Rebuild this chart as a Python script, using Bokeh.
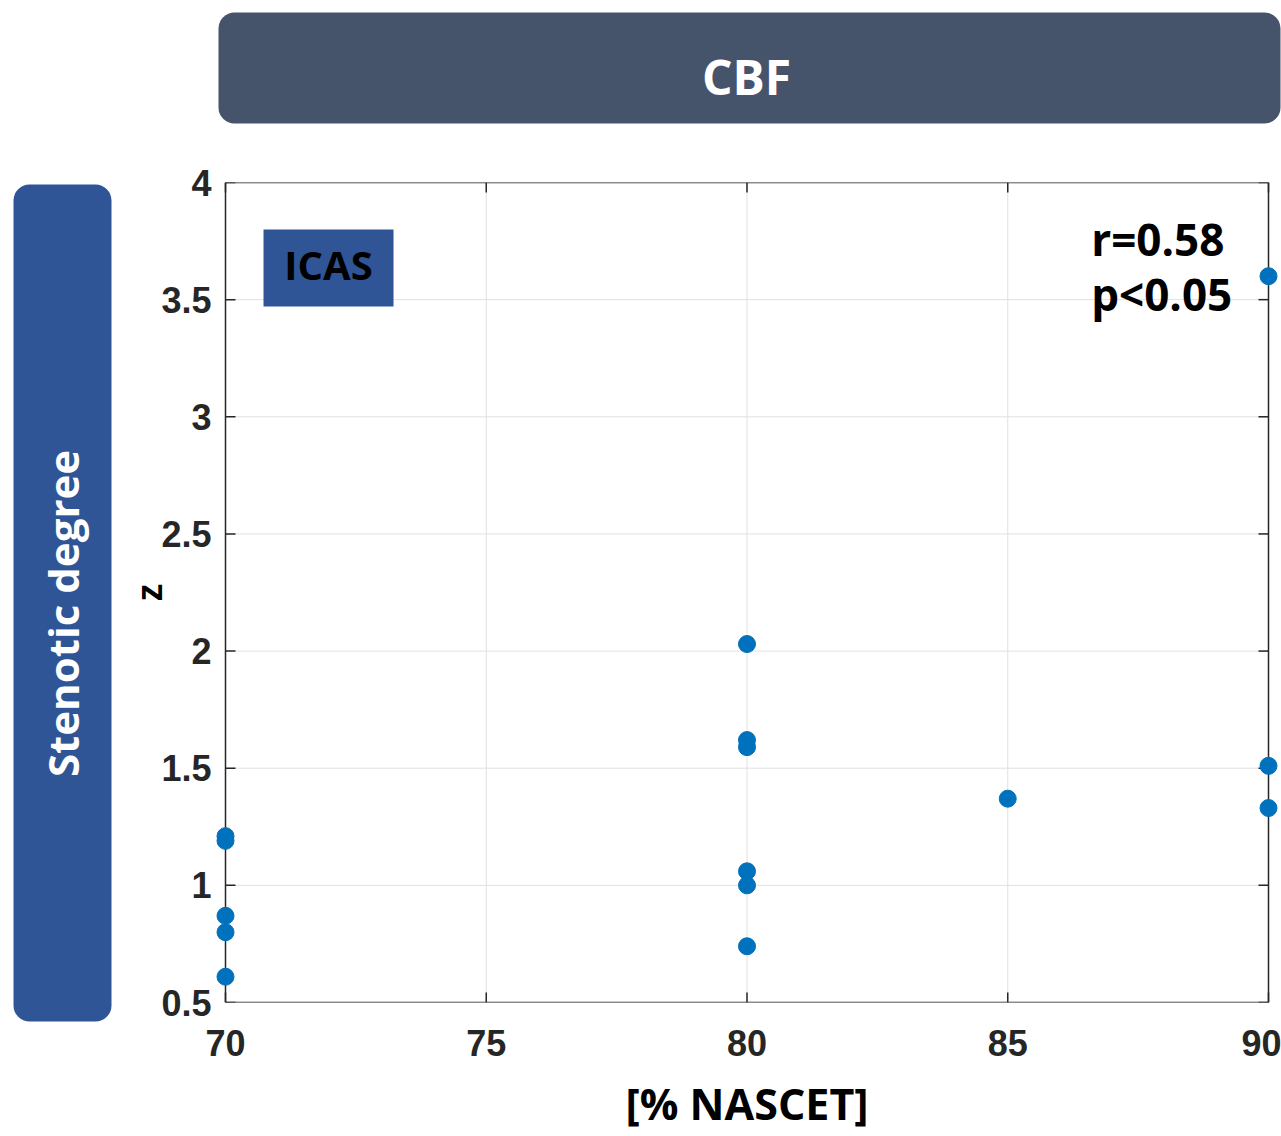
import math
from bokeh.plotting import figure
from bokeh.models import Range1d, BoxAnnotation, Label, CustomJSTickFormatter
from bokeh.layouts import column, row
from bokeh.embed import file_html
from bokeh.resources import INLINE

# ---------------- data ----------------
nascet = [70, 70, 70, 70, 70, 80, 80, 80, 80, 80, 80, 85, 90, 90, 90]
z_vals = [1.21, 1.19, 0.87, 0.80, 0.61, 2.03, 1.62, 1.59, 1.06, 1.00, 0.74, 1.37, 3.60, 1.51, 1.33]
x_ticks = [70, 75, 80, 85, 90]
y_ticks = [0.5, 1, 1.5, 2, 2.5, 3, 3.5, 4]
x_min, x_max = 70, 90
y_min, y_max = 0.5, 4
title_text = "CBF"
side_text = "Stenotic degree"
group_text = "ICAS"
stat_r = "r=0.58"
stat_p = "p<0.05"
x_label = "[% NASCET]"
y_label = "z"

CALIBRI = "Open Sans"
ARIAL = "Liberation Sans"

# ---------------- header ----------------
hdr = figure(width=1281, height=150, x_range=Range1d(0, 1281), y_range=Range1d(0, 150),
             x_axis_type=None, y_axis_type=None, toolbar_location=None,
             output_backend="svg", min_border=0, outline_line_color=None)
hdr.grid.visible = False
hdr.frame_align = False
hdr.add_layout(BoxAnnotation(left=218, right=1280, top=138, bottom=27,
                             fill_color="#46546b", fill_alpha=1, line_color=None,
                             border_radius=16))
hdr.add_layout(Label(x=746, y=74, text=title_text, text_align="center",
                     text_baseline="alphabetic", text_color="white",
                     text_font=CALIBRI, text_font_style="bold", text_font_size="48px"))

# ---------------- side bar ----------------
side = figure(width=112, height=986, x_range=Range1d(0, 112), y_range=Range1d(0, 986),
              x_axis_type=None, y_axis_type=None, toolbar_location=None,
              output_backend="svg", min_border=0, outline_line_color=None)
side.grid.visible = False
side.frame_align = False
side.add_layout(BoxAnnotation(left=13, right=111, top=952, bottom=115,
                              fill_color="#2f5597", fill_alpha=1, line_color=None,
                              border_radius=16))
side.add_layout(Label(x=62, y=523, text=side_text, angle=math.pi / 2,
                      text_align="center", text_baseline="alphabetic",
                      text_color="white", text_font=CALIBRI,
                      text_font_style="bold", text_font_size="42px"))

# ---------------- main plot ----------------
pad = 10 * (x_max - x_min) / 1043.0
p = figure(width=1169, height=986,
           x_range=Range1d(x_min - pad, x_max + pad), y_range=Range1d(y_min, y_max),
           toolbar_location=None, output_backend="svg",
           min_border_left=103, min_border_right=3, min_border_top=32, min_border_bottom=134,
           outline_line_color=None, background_fill_color="white", border_fill_color="white")
p.grid.visible = False

tx = 10 * (x_max - x_min) / 1043.0   # tick length in x data units
ty = 10 * (y_max - y_min) / 820.0     # tick length in y data units

# grid lines
p.segment(x0=[x_min] * len(y_ticks), y0=y_ticks, x1=[x_max] * len(y_ticks), y1=y_ticks,
          line_color="#e0e0e0", line_width=1)
p.segment(x0=x_ticks, y0=[y_min] * len(x_ticks), x1=x_ticks, y1=[y_max] * len(x_ticks),
          line_color="#e0e0e0", line_width=1)

# box
p.segment(x0=[x_min, x_max, x_min, x_min], y0=[y_min, y_min, y_min, y_max],
          x1=[x_min, x_max, x_max, x_max], y1=[y_max, y_max, y_min, y_max],
          line_color="#262626", line_width=1.5)
# inward ticks
p.segment(x0=[x_min] * len(y_ticks), y0=y_ticks, x1=[x_min + tx] * len(y_ticks), y1=y_ticks,
          line_color="#262626", line_width=1.5)
p.segment(x0=[x_max] * len(y_ticks), y0=y_ticks, x1=[x_max - tx] * len(y_ticks), y1=y_ticks,
          line_color="#262626", line_width=1.5)
p.segment(x0=x_ticks, y0=[y_min] * len(x_ticks), x1=x_ticks, y1=[y_min + ty] * len(x_ticks),
          line_color="#262626", line_width=1.5)
p.segment(x0=x_ticks, y0=[y_max] * len(x_ticks), x1=x_ticks, y1=[y_max - ty] * len(x_ticks),
          line_color="#262626", line_width=1.5)

# data points
p.scatter(nascet, z_vals, size=17, fill_color="#0072bd", line_color="#0072bd")

# axes
fmt = CustomJSTickFormatter(code="return tick.toString()")
for ax in (p.xaxis[0], p.yaxis[0]):
    ax.axis_line_color = None
    ax.major_tick_in = 0
    ax.major_tick_out = 0
    ax.minor_tick_line_color = None
    ax.major_label_text_font = ARIAL
    ax.major_label_text_font_style = "bold"
    ax.major_label_text_font_size = "36px"
    ax.major_label_text_color = "#262626"
    ax.formatter = fmt
p.xaxis.ticker = x_ticks
p.yaxis.ticker = y_ticks
p.xaxis.major_label_standoff = 27
p.yaxis.major_label_standoff = 4
p.xaxis.axis_label = x_label
p.xaxis.axis_label_text_font = CALIBRI
p.xaxis.axis_label_text_font_style = "bold"
p.xaxis.axis_label_text_font_size = "43px"
p.xaxis.axis_label_text_color = "black"
p.xaxis.axis_label_standoff = 15
p.yaxis.axis_label = y_label
p.yaxis.axis_label_text_font = ARIAL
p.yaxis.axis_label_text_font_style = "bold"
p.yaxis.axis_label_text_font_size = "36px"
p.yaxis.axis_label_text_color = "black"
p.yaxis.axis_label_standoff = -12

# ICAS tag
p.add_layout(BoxAnnotation(left=70.729, right=73.222, top=3.799, bottom=3.471,
                           fill_color="#2f5597", fill_alpha=1, line_color=None))
p.add_layout(Label(x=71.975, y=3.65, text=group_text, text_align="center",
                   text_baseline="alphabetic", text_color="black", text_font=CALIBRI,
                   text_font_style="bold", text_font_size="40px"))

# statistics
p.add_layout(Label(x=86.6, y=3.757, text=stat_r, text_align="left",
                   text_baseline="alphabetic", text_color="black", text_font=CALIBRI,
                   text_font_style="bold", text_font_size="44px"))
p.add_layout(Label(x=86.6, y=3.522, text=stat_p, text_align="left",
                   text_baseline="alphabetic", text_color="black", text_font=CALIBRI,
                   text_font_style="bold", text_font_size="44px"))

layout = column(hdr, row(side, p))
open("out.html", "w").write(file_html(layout, INLINE))
